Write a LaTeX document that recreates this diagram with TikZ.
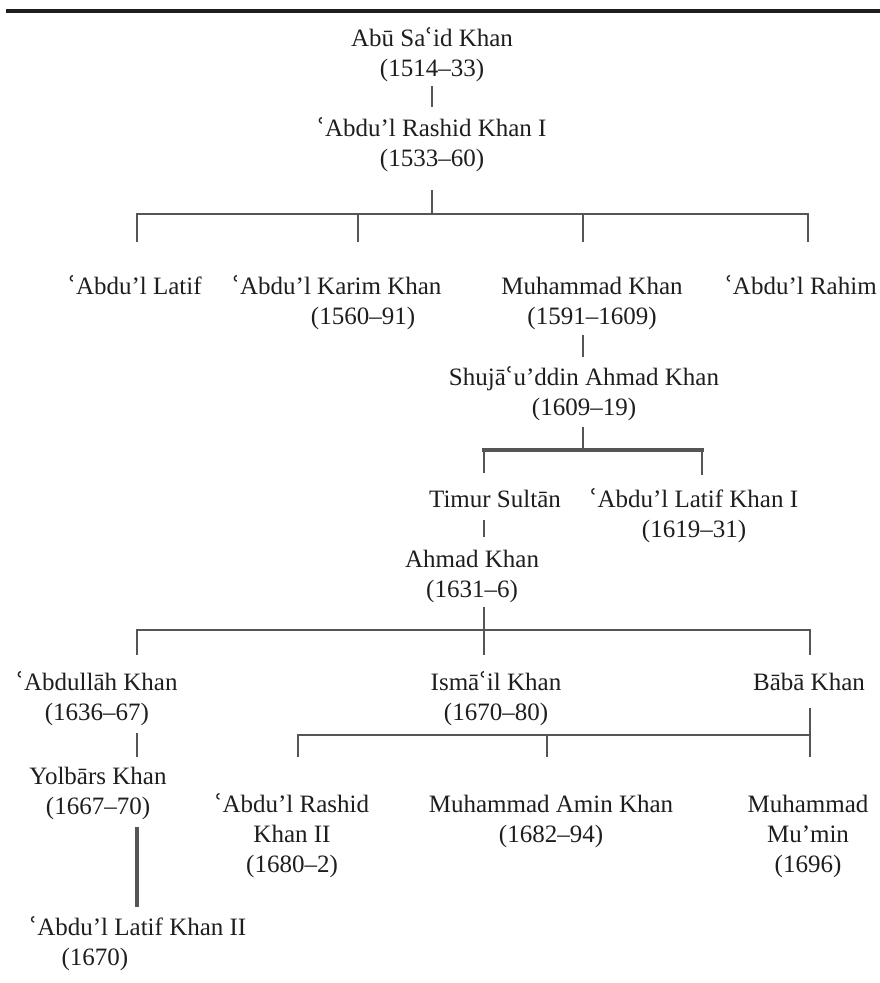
\documentclass[tikz,border=0pt]{standalone}
\usepackage{fontspec}
\setmainfont{Liberation Serif}
\newfontfamily\aynfont{DejaVu Serif}
\newcommand{\ay}{{\aynfont ʿ}}
\newcommand{\pp}[1]{\begin{tabular}[t]{@{}c@{}}#1\end{tabular}}
\definecolor{ink}{HTML}{1E1E1E}
\definecolor{wire}{HTML}{555555}
\begin{document}
\begin{tikzpicture}[x=1pt,y=-1pt,
  person/.style={inner sep=0pt, anchor=base, text=ink, font=\fontsize{25}{30}\selectfont},
  link/.style={draw=wire, line width=1.6pt},
  heavy/.style={draw=wire, line width=3.4pt}]
\useasboundingbox (0,0) rectangle (880,983);
\fill[white] (0,0) rectangle (880,983);
\coordinate (ruleW) at (6,11);
\coordinate (ruleE) at (880,11);
\draw[line width=3.6pt, ink] (ruleW) -- (ruleE);

% people
\node[person] (abu)    at (432,46)  {\pp{Abū Sa\ay id Khan\\(1514–33)}};
\node[person] (rash)   at (432,136) {\pp{\ay Abdu’l Rashid Khan I\\(1533–60)}};
\node[person] (latif1) at (135,294) {\pp{\ay Abdu’l Latif}};
\node[person] (karim)  at (350,294) {\pp{\ay Abdu’l Karim Khan\hspace*{26pt}\\\hspace*{26pt}(1560–91)}};
\node[person] (muh)    at (592,294) {\pp{Muhammad Khan\\(1591–1609)}};
\node[person] (rahim)  at (801,294) {\pp{\ay Abdu’l Rahim}};
\node[person] (shuja)  at (584,385) {\pp{Shujā\ay u’ddin Ahmad Khan\\(1609–19)}};
\node[person] (timur)  at (495,507) {\pp{Timur Sultān}};
\node[person] (latifI) at (694,507) {\pp{\ay Abdu’l Latif Khan I\\(1619–31)}};
\node[person] (ahmad)  at (472,567) {\pp{Ahmad Khan\\(1631–6)}};
\node[person] (abd)    at (97,690)  {\pp{\ay Abdullāh Khan\\(1636–67)}};
\node[person] (ismail) at (496,690) {\pp{Ismā\ay il Khan\\(1670–80)}};
\node[person] (baba)   at (809,690) {\pp{Bābā Khan}};
\node[person] (yol)    at (98,784)  {\pp{Yolbārs Khan\\(1667–70)}};
\node[person] (rash2)  at (292,812) {\pp{\ay Abdu’l Rashid\\Khan II\\(1680–2)}};
\node[person] (amin)   at (551,812) {\pp{Muhammad Amin Khan\\(1682–94)}};
\node[person] (mumin)  at (808,812) {\pp{Muhammad\\Mu’min\\(1696)}};
\node[person] (latif2) at (138,935) {\pp{\ay Abdu’l Latif Khan II\\(1670)\hspace*{86pt}}};

% columns and junctions
\coordinate (xa) at (137,0);
\coordinate (xb) at (358,0);
\coordinate (xc) at (583,0);
\coordinate (xd) at (808,0);
\coordinate (xm) at (484,0);
\coordinate (xs) at (702,0);
\coordinate (xe) at (298,0);
\coordinate (xf) at (547,0);
\coordinate (xg) at (810,0);
\coordinate (j1) at (432,214);
\coordinate (j2) at (583,450);
\coordinate (j3) at (484,630);
\coordinate (j4) at (547,735);

% connectors
\draw[link, shorten <=1pt, shorten >=8pt] (abu.south) -- (rash.north);
\draw[link, shorten <=15pt] (rash.south) -- (j1);
\draw[link, line cap=rect] (xa |- j1) -- (xd |- j1);
\foreach \cx/\nd in {xa/latif1, xb/karim, xc/muh, xd/rahim}
  \draw[link, shorten >=31pt] (\cx |- j1) -- (\cx |- \nd.north);

\draw[link, shorten <=2pt, shorten >=7pt] (xc |- muh.south) -- (xc |- shuja.north);
\draw[link, shorten <=3pt] (xc |- shuja.south) -- (j2);
\draw[heavy, line cap=rect] (xm |- j2) -- (xs |- j2);
\draw[link, shorten >=13pt] (xm |- j2) -- (xm |- timur.north);
\draw[link, line width=2.2pt, shorten >=11pt] (xs |- j2) -- (xs |- latifI.north);

\draw[link, shorten <=4pt, shorten >=9pt] (xm |- timur.south) -- (xm |- ahmad.north);
\draw[link, shorten <=1pt] (xm |- ahmad.south) -- (j3);
\draw[link, line cap=rect] (xa |- j3) -- (xg |- j3);
\foreach \cx/\nd in {xa/abd, xm/ismail, xg/baba}
  \draw[link, shorten >=14pt] (\cx |- j3) -- (\cx |- \nd.north);

\draw[link, shorten <=4pt, shorten >=6pt] (xa |- abd.south) -- (xa |- yol.north);
\draw[heavy, shorten <=4pt, shorten >=7pt] (xa |- yol.south) -- (xa |- latif2.north);

\draw[link, line cap=rect] (xe |- j4) -- (xg |- j4);
\draw[link, shorten >=34pt] (xe |- j4) -- (xe |- rash2.north);
\draw[link, shorten >=34pt] (xf |- j4) -- (xf |- amin.north);
\draw[link, shorten <=9pt, shorten >=34pt] (xg |- baba.south) -- (xg |- mumin.north);
\end{tikzpicture}
\end{document}
